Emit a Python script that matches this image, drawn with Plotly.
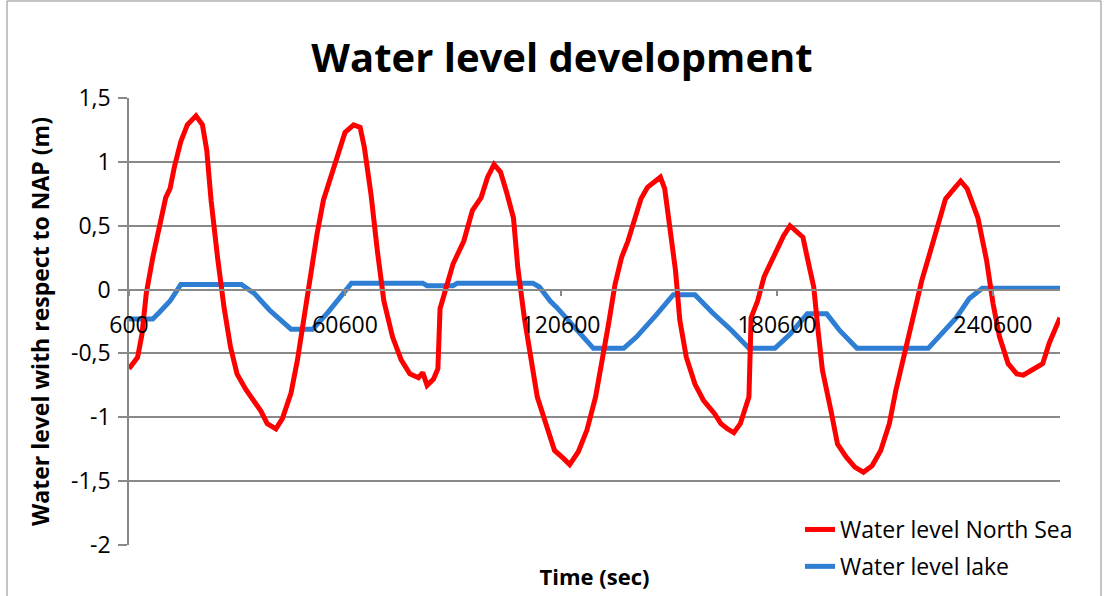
import plotly.graph_objects as go

# ---- data: time in seconds, water level in metres relative to NAP ----
t_sea = [600, 3000, 4200, 5400, 7200, 9000, 10800, 12000, 13200, 15000,
         16800, 19200, 21000, 22200, 23400, 25200, 27000, 28800, 30600, 33000,
         35400, 37200, 39000, 41400, 43200, 45600, 47400, 49200, 51000, 52800,
         54600, 56400, 58200, 60600, 63000, 64800, 66000, 67800, 69600, 71400,
         73800, 76200, 78600, 81000, 82200, 83400, 85200, 86400, 87000, 88200,
         90600, 93600, 96000, 98400, 100200, 102000, 103800, 105600, 107400, 108600,
         110400, 112200, 114000, 116400, 118800, 121200, 123000, 125400, 127800, 130200,
         132000, 133800, 135600, 137400, 139200, 141000, 142800, 144600, 147000, 148200,
         149400, 150600, 152400, 153600, 155400, 157800, 160200, 163200, 165000, 166800,
         168600, 170400, 172800, 173400, 175200, 177000, 179400, 182400, 184200, 186000,
         187800, 189000, 190800, 192000, 193200, 195600, 197400, 199800, 202200, 204600,
         207000, 209400, 211800, 213600, 216000, 218400, 220800, 223200, 225600, 227400,
         229800, 231600, 233400, 236400, 238800, 240600, 242400, 244800, 247200, 249000,
         252000, 254400, 256200, 259200]
sea_level = [-0.62, -0.53, -0.35, -0.03, 0.25, 0.51, 0.72, 0.79, 0.96, 1.16,
             1.29, 1.36, 1.29, 1.09, 0.70, 0.25, -0.14, -0.45, -0.66, -0.78,
             -0.87, -0.95, -1.05, -1.09, -1.01, -0.81, -0.55, -0.22, 0.12, 0.43,
             0.70, 0.86, 1.03, 1.23, 1.29, 1.27, 1.11, 0.75, 0.30, -0.09,
             -0.37, -0.55, -0.66, -0.69, -0.65, -0.75, -0.70, -0.62, -0.15, -0.03,
             0.20, 0.38, 0.62, 0.72, 0.88, 0.98, 0.92, 0.75, 0.56, 0.17,
             -0.22, -0.53, -0.84, -1.05, -1.26, -1.32, -1.37, -1.27, -1.10, -0.84,
             -0.58, -0.27, 0.04, 0.25, 0.38, 0.54, 0.71, 0.80, 0.86, 0.88,
             0.79, 0.54, 0.15, -0.24, -0.53, -0.74, -0.87, -0.97, -1.05, -1.09,
             -1.12, -1.05, -0.84, -0.22, -0.09, 0.10, 0.25, 0.42, 0.50, 0.46,
             0.41, 0.25, 0.02, -0.32, -0.63, -0.95, -1.21, -1.31, -1.39, -1.43,
             -1.38, -1.26, -1.05, -0.79, -0.50, -0.19, 0.07, 0.30, 0.54, 0.71,
             0.79, 0.85, 0.79, 0.56, 0.23, -0.11, -0.37, -0.58, -0.66, -0.67,
             -0.62, -0.58, -0.42, -0.22]

t_lake = [600, 7200, 9000, 12000, 15000, 31800, 35400, 39600, 45600, 51600,
          55800, 60000, 62400, 82200, 83400, 90600, 91800, 112800, 114600, 117600,
          119400, 124200, 129600, 138000, 141600, 147000, 151800, 157800, 162600, 168000,
          172800, 180000, 184200, 189000, 194400, 198000, 202800, 222600, 225600, 230400,
          234000, 237600, 259200]
lake_level = [-0.23, -0.23, -0.18, -0.09, 0.04, 0.04, -0.03, -0.16, -0.31, -0.31,
              -0.18, -0.03, 0.05, 0.05, 0.03, 0.03, 0.05, 0.05, 0.02, -0.09,
              -0.14, -0.29, -0.46, -0.46, -0.37, -0.20, -0.04, -0.04, -0.18, -0.32,
              -0.46, -0.46, -0.35, -0.19, -0.19, -0.32, -0.46, -0.46, -0.37, -0.22,
              -0.07, 0.01, 0.01]

x_ticks = [600, 60600, 120600, 180600, 240600]
x_tick_text = ["600", "60600", "120600", "180600", "240600"]
y_ticks = [-2, -1.5, -1, -0.5, 0, 0.5, 1, 1.5]
y_tick_text = ["-2", "-1,5", "-1", "-0,5", "0", "0,5", "1", "1,5"]
Y_MIN, Y_MAX = -2, 1.5
X_MIN, X_MAX = 600, 259200

# ---- page geometry ----
W, H = 1110, 596
ML, MR, MT, MB = 129, 50, 98, 51
PW, PH = W - ML - MR, H - MT - MB

def px_x(p):
    return (p - ML) / PW

def px_y(p):
    return (H - MB - p) / PH

FONT = "Open Sans"
GRID = "#898989"

fig = go.Figure()
fig.add_trace(go.Scatter(
    x=t_lake, y=lake_level, mode="lines", name="Water level lake",
    line=dict(color="#2E7ED4", width=5), legendrank=2, legendgroup="lake"))
fig.add_trace(go.Scatter(
    x=t_sea, y=sea_level, mode="lines", name="Water level North Sea",
    line=dict(color="#FF0000", width=5), legendrank=1, legendgroup="sea"))

zero_pos = (0 - Y_MIN) / (Y_MAX - Y_MIN)

fig.update_layout(
    template="none",
    width=W, height=H,
    margin=dict(l=ML, r=MR, t=MT, b=MB, autoexpand=False),
    paper_bgcolor="white", plot_bgcolor="white",
    separators=",.",
    font=dict(family=FONT, size=23, color="black"),
    title=dict(text="<b>Water level development</b>", xref="container", x=562 / W,
               xanchor="center", yref="container", y=1 - 58 / H, yanchor="middle",
               font=dict(size=40, color="black")),
    xaxis=dict(range=[X_MIN, X_MAX], anchor="free", position=zero_pos,
               tickmode="array", tickvals=x_ticks, ticktext=x_tick_text,
               ticks="outside", ticklen=6, tickwidth=1.5, tickcolor=GRID,
               ticklabelstandoff=9,
               showline=True, linecolor=GRID, linewidth=1.5,
               showgrid=False, zeroline=False,
               title=dict(text="<b>Time (sec)</b>", font=dict(size=22), standoff=230)),
    yaxis=dict(range=[Y_MIN, Y_MAX], tickmode="array", tickvals=y_ticks,
               ticktext=y_tick_text, ticks="outside", ticklen=9, tickwidth=1.5,
               tickcolor=GRID, showline=True, linecolor=GRID, linewidth=1.5,
               showgrid=True, gridcolor=GRID, gridwidth=1.5, zeroline=False,
               ticklabelstandoff=3,
               title=dict(text="<b>Water level with respect to NAP (m)</b>",
                          font=dict(size=23), standoff=15)),
    legend=dict(xref="container", yref="container", x=800 / W, xanchor="left",
                y=1 - 508 / H, yanchor="top", bgcolor="rgba(0,0,0,0)",
                borderwidth=0, traceorder="grouped", tracegroupgap=4,
                font=dict(size=23)),
    shapes=[dict(type="rect", xref="paper", yref="paper",
                 x0=px_x(7), x1=px_x(1101), y0=px_y(600), y1=px_y(1),
                 line=dict(color=GRID, width=1), layer="below")],
)

fig.write_html("out.html")
